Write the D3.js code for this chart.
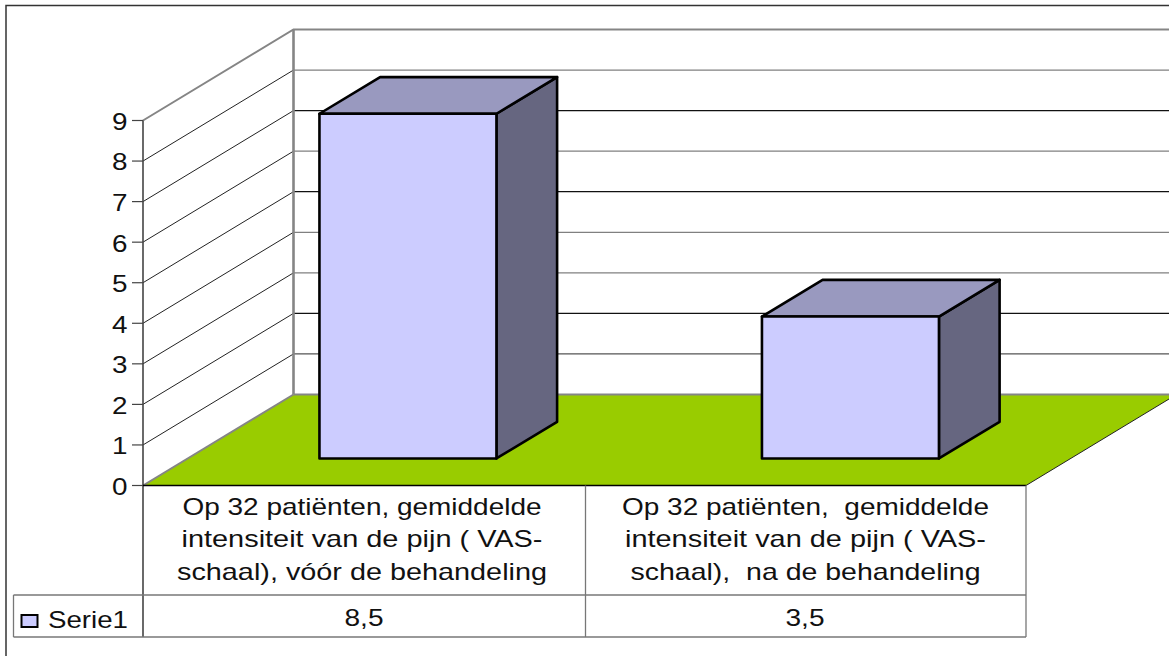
<!DOCTYPE html>
<html>
<head>
<meta charset="utf-8">
<script src="https://cdnjs.cloudflare.com/ajax/libs/d3/7.8.5/d3.min.js"></script>
<style>
html, body { margin: 0; padding: 0; background: #fff; overflow: hidden; }
text { font-family: "Liberation Sans", Arial, sans-serif; fill: #111; white-space: pre; }
</style>
</head>
<body>
<svg id="chart" width="1169" height="656"></svg>
<script>
const categories = [
    ["Op 32 patiënten, gemiddelde", "intensiteit van de pijn ( VAS-", "schaal), vóór de behandeling"],
    ["Op 32 patiënten,  gemiddelde", "intensiteit van de pijn ( VAS-", "schaal),  na de behandeling"]
];
const seriesName = "Serie1";
const values = [8.5, 3.5];
const valueLabels = ["8,5", "3,5"];
const ticks = [0, 1, 2, 3, 4, 5, 6, 7, 8, 9];

// the reference text is stretched sideways, so each line gets its measured width
const labelWidths = [[359, 361, 370], [367, 361, 350]];
const labelCenters = [362, 805.5];

const frontX = 143, frontEnd = 1026, divider = 585.5;
const depthX = 150.5, depthY = 91;
const floorY = 485.5, topY = 120.5;
const rowA = 595, rowB = 637, legendX = 13.5;
const fontSize = 24;

const svg = d3.select("#chart");
const x = d3.scaleBand().domain([0, 1]).range([frontX - 1, frontEnd + 1]).paddingInner(0.6).paddingOuter(0.3);
const y = d3.scaleLinear().domain([0, 9]).range([floorY, topY]);

// oblique projection: t = 0 at the front of the floor, t = 1 at the back wall
function px(sx, t) { return sx + depthX * t; }
function py(v, t) { return y(v) - depthY * t; }
function pts(list) { return list.map(p => p.join(",")).join(" "); }

function label(sel, width) {
    return sel.attr("font-size", fontSize).attr("textLength", width).attr("lengthAdjust", "spacingAndGlyphs");
}

// chart border, runs off the right side of the picture
svg.append("rect").attr("x", 6).attr("y", 5.5).attr("width", 1300).attr("height", 800)
    .attr("fill", "#fff").attr("stroke", "#333").attr("stroke-width", 1.5);

// floor
svg.append("polygon")
    .attr("points", pts([[px(frontX, 0), py(0, 0)], [px(frontEnd, 0), py(0, 0)],
        [px(frontEnd, 1), py(0, 1)], [px(frontX, 1), py(0, 1)]]))
    .attr("fill", "#99cc00");
svg.append("line").attr("x1", px(frontEnd, 0)).attr("y1", py(0, 0))
    .attr("x2", px(frontEnd, 1)).attr("y2", py(0, 1)).attr("stroke", "#222").attr("stroke-width", 1);

// gridlines on side and back wall
const gridColors = { 1: "#555", 2: "#111", 3: "#808080", 4: "#808080", 5: "#111", 6: "#808080", 7: "#111", 8: "#808080" };
const g = svg.append("g");
const inner = ticks.filter(d => d > 0 && d < 9);
g.selectAll(".side").data(inner).enter().append("line")
    .attr("x1", px(frontX, 0)).attr("y1", d => py(d, 0))
    .attr("x2", px(frontX, 1)).attr("y2", d => py(d, 1))
    .attr("stroke", "#222").attr("stroke-width", 1);
g.selectAll(".back").data(inner).enter().append("line")
    .attr("x1", px(frontX, 1)).attr("y1", d => py(d, 1))
    .attr("x2", 1169).attr("y2", d => py(d, 1))
    .attr("stroke", d => gridColors[d]).attr("stroke-width", 1.3);

// heavier gray wall edges
const wall = svg.append("g").attr("fill", "none").attr("stroke", "#858585").attr("stroke-width", 2);
wall.append("polyline").attr("points", pts([[px(frontX, 0), py(9, 0)], [px(frontX, 1), py(9, 1)], [1169, py(9, 1)]]));
wall.append("line").attr("x1", px(frontX, 1)).attr("y1", py(9, 1)).attr("x2", px(frontX, 1)).attr("y2", py(0, 1)).attr("stroke-width", 2.6);
wall.append("line").attr("x1", px(frontX, 1)).attr("y1", py(0, 1)).attr("x2", 1169).attr("y2", py(0, 1));
wall.append("line").attr("x1", px(frontX, 0)).attr("y1", py(0, 0)).attr("x2", px(frontX, 1)).attr("y2", py(0, 1));

// bars
const t0 = 0.297, t1 = 0.7;
values.forEach((v, i) => {
    const l = x(i), r = x(i) + x.bandwidth();
    const bar = svg.append("g").attr("stroke", "#000").attr("stroke-width", 2.6).attr("stroke-linejoin", "round");
    bar.append("polygon").attr("fill", "#666680")
        .attr("points", pts([[px(r, t0), py(v, t0)], [px(r, t1), py(v, t1)], [px(r, t1), py(0, t1)], [px(r, t0), py(0, t0)]]));
    bar.append("polygon").attr("fill", "#9999bf")
        .attr("points", pts([[px(l, t0), py(v, t0)], [px(l, t1), py(v, t1)], [px(r, t1), py(v, t1)], [px(r, t0), py(v, t0)]]));
    bar.append("polygon").attr("fill", "#ccccff")
        .attr("points", pts([[px(l, t0), py(v, t0)], [px(r, t0), py(v, t0)], [px(r, t0), py(0, t0)], [px(l, t0), py(0, t0)]]));
});

// value axis
const axis = svg.append("g").attr("stroke", "#444");
axis.append("line").attr("x1", frontX).attr("y1", topY).attr("x2", frontX).attr("y2", rowB).attr("stroke-width", 1.6);
axis.selectAll(".tick").data(ticks).enter().append("line")
    .attr("x1", frontX - 11).attr("x2", frontX).attr("y1", d => y(d)).attr("y2", d => y(d)).attr("stroke-width", 1.2);
label(svg.selectAll(".tl").data(ticks).enter().append("text"), 15.5)
    .attr("x", frontX - 15.5).attr("y", d => y(d)).attr("dy", "0.39em")
    .attr("text-anchor", "end").text(d => d);

// data table
svg.append("line").attr("x1", frontX).attr("x2", frontEnd).attr("y1", floorY).attr("y2", floorY)
    .attr("stroke", "#000").attr("stroke-width", 1.5);
const tbl = svg.append("g").attr("stroke", "#777").attr("stroke-width", 1.3);
[rowA, rowB].forEach(ry => tbl.append("line").attr("x1", legendX).attr("x2", frontEnd).attr("y1", ry).attr("y2", ry));
tbl.append("line").attr("x1", legendX).attr("x2", legendX).attr("y1", rowA).attr("y2", rowB);
[divider, frontEnd].forEach(cx => tbl.append("line").attr("x1", cx).attr("x2", cx).attr("y1", floorY).attr("y2", rowB));

const lineY = [514.5, 547, 579.5];
categories.forEach((lines, i) => {
    lines.forEach((line, k) => {
        label(svg.append("text"), labelWidths[i][k])
            .attr("x", labelCenters[i]).attr("y", lineY[k]).attr("text-anchor", "middle").text(line);
    });
    label(svg.append("text"), 39)
        .attr("x", i === 0 ? 364 : 805).attr("y", 626).attr("text-anchor", "middle").text(valueLabels[i]);
});

// legend key
svg.append("rect").attr("x", 21.5).attr("y", 615).attr("width", 16).attr("height", 12)
    .attr("fill", "#ccccff").attr("stroke", "#000").attr("stroke-width", 2);
label(svg.append("text"), 80).attr("x", 48).attr("y", 628).text(seriesName);
</script>
</body>
</html>
